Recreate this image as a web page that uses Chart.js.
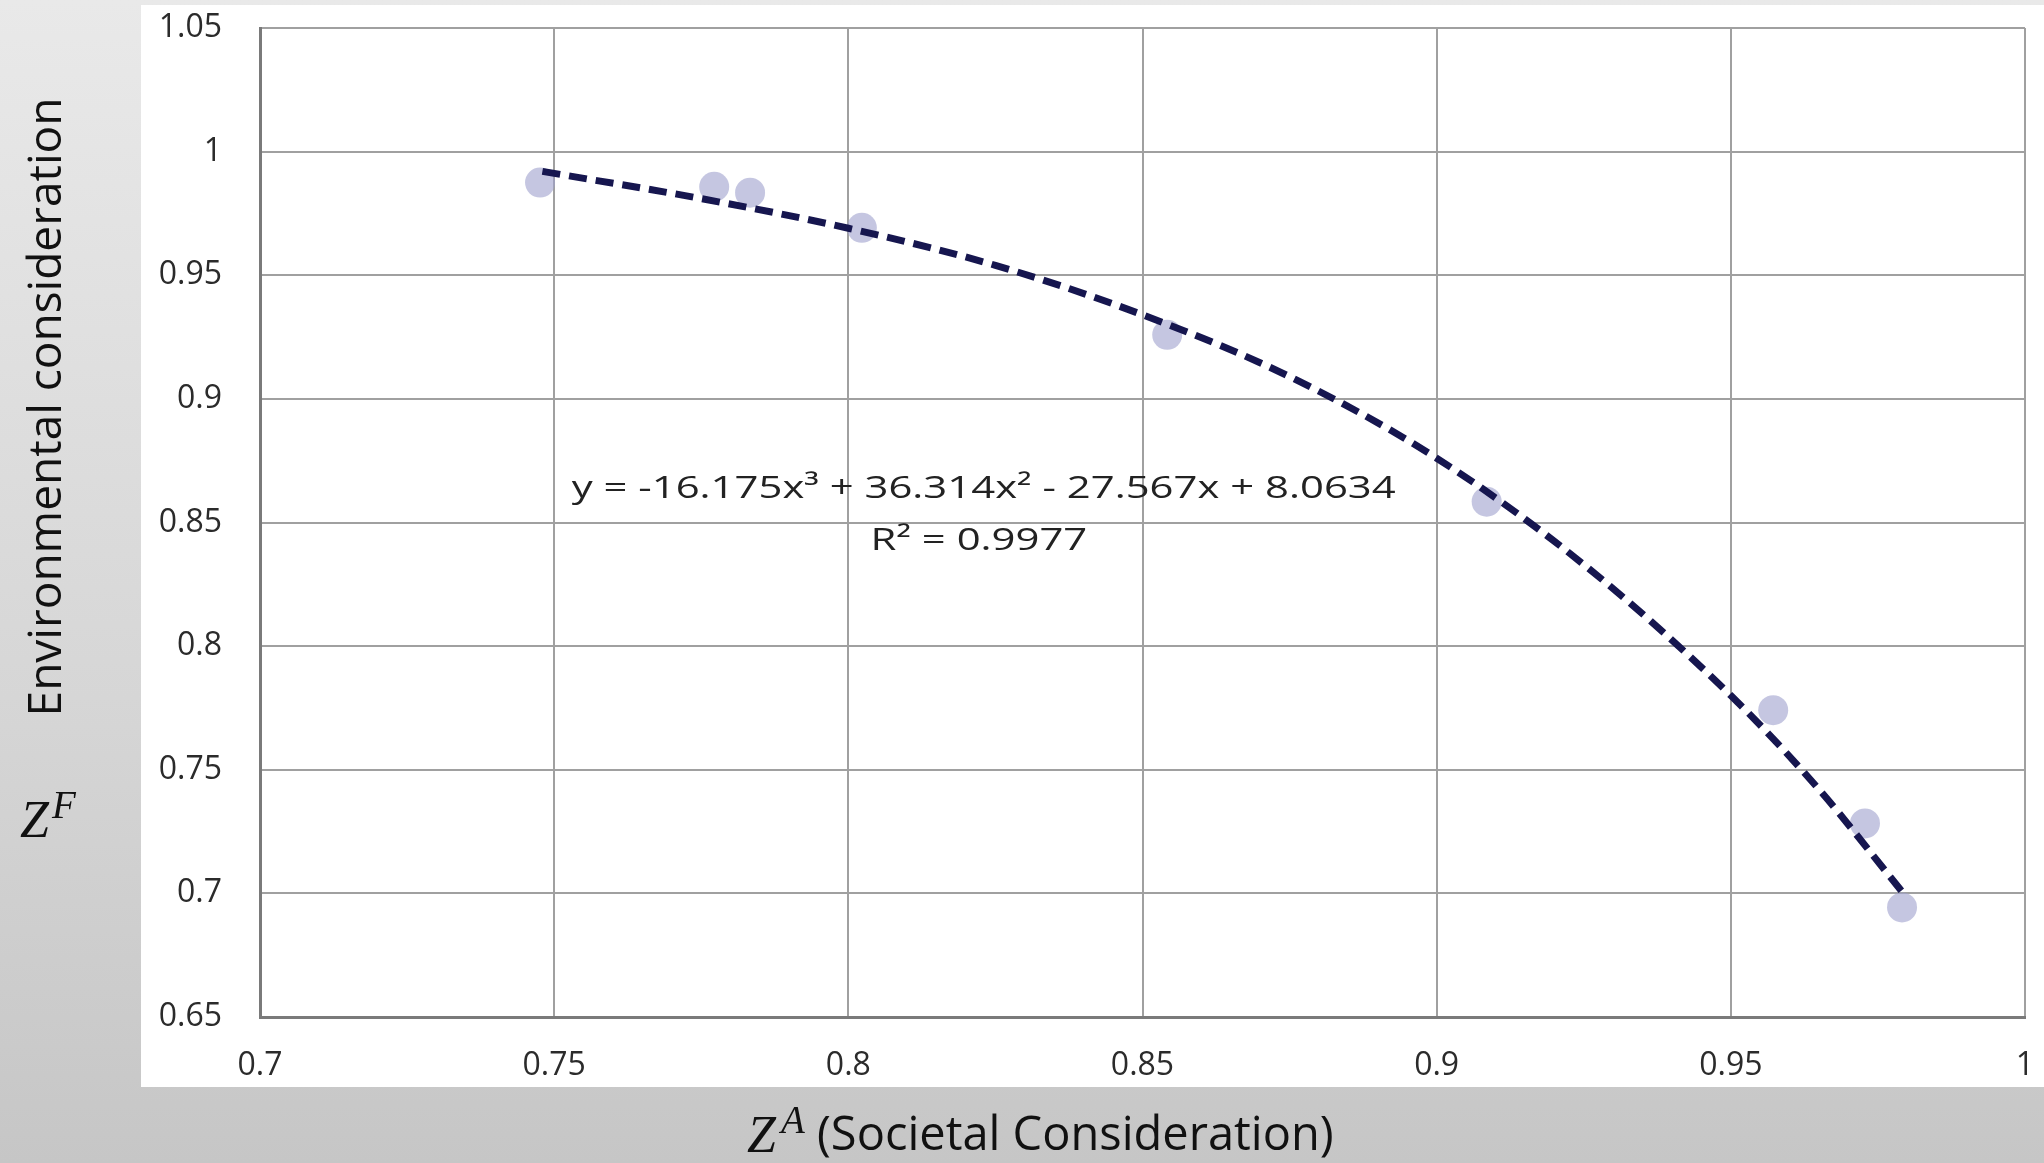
<!DOCTYPE html>
<html>
<head>
<meta charset="utf-8">
<script src="https://cdn.jsdelivr.net/npm/chart.js@4.4.1/dist/chart.umd.min.js"></script>
<style>
  html, body { margin: 0; padding: 0; }
  body {
    width: 2044px; height: 1163px; overflow: hidden; position: relative;
    background: linear-gradient(#e9e9e9 0%, #d6d6d6 60%, #c6c6c6 100%);
  }
  #panel { position: absolute; left: 141px; top: 5px; width: 1903px; height: 1082px; background: #fff; }
  canvas { position: absolute; left: 0; top: 0; }
</style>
</head>
<body>
<div id="panel"></div>
<canvas id="chart" width="2044" height="1163"></canvas>
<script>
// Z^A (societal) vs Z^F (environmental)
const societal = [0.7476, 0.7772, 0.7833, 0.8023, 0.8542, 0.9085, 0.9572, 0.9728, 0.9791];
const environmental = [0.9875, 0.9858, 0.9834, 0.9692, 0.9259, 0.8584, 0.7741, 0.7283, 0.6943];

// dashed polynomial trendline
const trendX = [0.748, 0.775, 0.8, 0.825, 0.85, 0.875, 0.9, 0.925, 0.95, 0.965, 0.979];
const trendY = [0.992, 0.981, 0.969, 0.954, 0.934, 0.909, 0.876, 0.833, 0.78, 0.742, 0.701];

const xTicks = [0.7, 0.75, 0.8, 0.85, 0.9, 0.95, 1];
const yTicks = [0.65, 0.7, 0.75, 0.8, 0.85, 0.9, 0.95, 1, 1.05];

const equation = "y = -16.175x³ + 36.314x² - 27.567x + 8.0634";
const rSquared = "R² = 0.9977";

Chart.defaults.font.family = "'Open Sans', sans-serif";

const pairs = (xs, ys) => xs.map((x, i) => ({ x, y: ys[i] }));
const fmt = (v) => String(+v.toFixed(2));

function stretchedText(ctx, text, x, y, font, sx) {
  ctx.save();
  ctx.font = font;
  ctx.textAlign = "center";
  ctx.textBaseline = "alphabetic";
  ctx.translate(x, y);
  ctx.scale(sx, 1);
  ctx.fillText(text, 0, 0);
  ctx.restore();
}

const annotations = {
  id: "annotations",
  afterDatasetsDraw(chart) {
    const { ctx, scales: { x, y } } = chart;
    ctx.save();
    ctx.fillStyle = "#222";
    stretchedText(ctx, equation, x.getPixelForValue(0.823), y.getPixelForValue(0.8599), "31px 'Open Sans'", 1.35);
    stretchedText(ctx, rSquared, x.getPixelForValue(0.8222), y.getPixelForValue(0.8389), "31px 'Open Sans'", 1.35);
    ctx.restore();
  },
  afterDraw(chart) {
    const ctx = chart.ctx;
    ctx.save();
    ctx.fillStyle = "#111";
    ctx.font = "46px 'Open Sans'";
    ctx.textAlign = "center";
    ctx.translate(61, 407);
    ctx.rotate(-Math.PI / 2);
    ctx.fillText("Environmental consideration", 0, 0);
    ctx.restore();

    ctx.save();
    ctx.fillStyle = "#111";
    ctx.textAlign = "left";
    ctx.font = "italic 52px 'Liberation Serif'";
    ctx.fillText("Z", 20, 837);
    ctx.fillText("Z", 747, 1152);
    ctx.font = "italic 39px 'Liberation Serif'";
    ctx.fillText("F", 52, 818);
    ctx.fillText("A", 781, 1133);
    ctx.font = "47px 'Open Sans'";
    ctx.fillText("(Societal Consideration)", 817, 1150);
    ctx.restore();
  },
};

function axis(ticks, extra) {
  return {
    type: "linear",
    min: ticks[0],
    max: ticks[ticks.length - 1],
    afterBuildTicks(scale) {
      scale.ticks = ticks.map((value) => ({ value }));
    },
    grid: { color: "#a0a0a0", lineWidth: 2, drawTicks: false },
    border: { color: "#7a7a7a", width: 3 },
    ticks: {
      color: "#2b2b2b",
      font: { size: 32 },
      callback: fmt,
      ...extra.ticks,
    },
    afterFit(scale) {
      extra.afterFit(scale);
      // keep the plot frame where the layout padding puts it
      scale.paddingTop = scale.paddingBottom = 0;
      scale.paddingLeft = scale.paddingRight = 0;
    },
  };
}

new Chart(document.getElementById("chart"), {
  type: "scatter",
  data: {
    datasets: [
      {
        type: "line",
        label: "Poly. trend",
        data: pairs(trendX, trendY),
        borderColor: "#16164f",
        borderWidth: 7,
        borderDash: [18, 9],
        pointRadius: 0,
        cubicInterpolationMode: "monotone",
        fill: false,
        order: 0,
      },
      {
        label: "Z^F",
        data: pairs(societal, environmental),
        backgroundColor: "rgba(158, 160, 205, 0.6)",
        borderWidth: 0,
        pointRadius: 15,
        order: 1,
      },
    ],
  },
  options: {
    responsive: false,
    animation: false,
    layout: { autoPadding: false, padding: { left: 0, top: 28, right: 19, bottom: 0 } },
    plugins: { legend: { display: false }, tooltip: { enabled: false } },
    scales: {
      x: axis(xTicks, {
        ticks: { padding: 30, maxRotation: 0 },
        afterFit(scale) { scale.height = 146; },
      }),
      y: axis(yTicks, {
        ticks: { padding: 38 },
        afterFit(scale) { scale.width = 260; },
      }),
    },
  },
  plugins: [annotations],
});
</script>
</body>
</html>
